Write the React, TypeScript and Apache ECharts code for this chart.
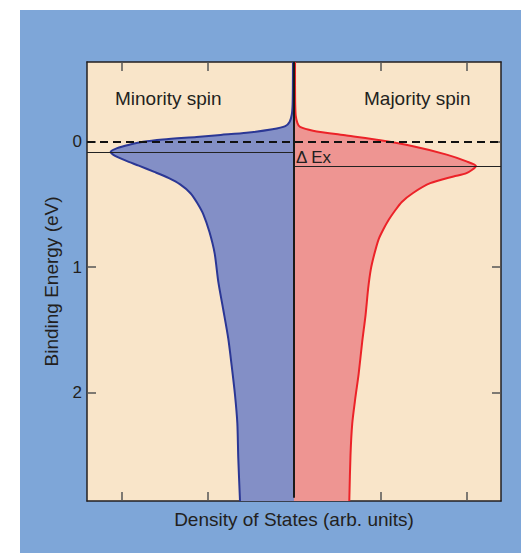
import React, { useEffect, useRef } from "react";
import * as echarts from "echarts";

// Density of states (x, arb. units; minority negative) vs binding energy (y, eV)
const minority: number[][] = [
  [-0.012, -0.637], [-0.013, -0.45], [-0.016, -0.3], [-0.025, -0.22], [-0.05, -0.16],
  [-0.1, -0.125], [-0.25, -0.1], [-0.55, -0.072], [-0.85, -0.055], [-1.13, -0.039],
  [-1.52, -0.018], [-1.75, 0.0], [-1.9, 0.022], [-2.05, 0.05], [-2.125, 0.08],
  [-2.08, 0.11], [-1.95, 0.15], [-1.8, 0.19], [-1.62, 0.24], [-1.45, 0.29],
  [-1.32, 0.34], [-1.2, 0.41], [-1.12, 0.49], [-1.05, 0.58], [-0.98, 0.72],
  [-0.92, 0.89], [-0.877, 1.12], [-0.82, 1.34], [-0.762, 1.57], [-0.722, 1.79],
  [-0.684, 2.02], [-0.657, 2.245], [-0.646, 2.527], [-0.626, 2.866],
];
const majority: number[][] = [
  [0.012, -0.637], [0.012, -0.45], [0.014, -0.3], [0.02, -0.21], [0.04, -0.15],
  [0.07, -0.119], [0.22, -0.089], [0.61, -0.05], [1.0, -0.012], [1.38, 0.036],
  [1.77, 0.102], [2.0, 0.156], [2.11, 0.193], [2.0, 0.25], [1.85, 0.276],
  [1.58, 0.33], [1.38, 0.408], [1.25, 0.48], [1.17, 0.55], [1.1, 0.62],
  [1.035, 0.7], [0.98, 0.78], [0.93, 0.9], [0.89, 1.02], [0.86, 1.17],
  [0.83, 1.38], [0.79, 1.6], [0.75, 1.85], [0.71, 2.05], [0.675, 2.25],
  [0.655, 2.5], [0.641, 2.866],
];
const xTicks = [-2, -1, 1, 2];
const yTicks = [0, 1, 2];
const fermiLevel = 0;
const minorityPeakE = 0.081;
const majorityPeakE = 0.193;
const xMin = -2.4;
const xMax = 2.4;
const yMin = -0.637;
const yMax = 2.866;

const FONT = "'Liberation Sans', Arial, Helvetica, sans-serif";
const TEXT = "#231f20";
const AXIS = "#231f20";

export default function App() {
  const ref = useRef<HTMLDivElement>(null);
  useEffect(() => {
    const chart = echarts.init(ref.current!, null, { renderer: "svg" });

    const dosSeries = (pts: number[][], fillColor: string, lineColor: string) => ({
      type: "custom",
      coordinateSystem: "cartesian2d",
      silent: true,
      clip: true,
      z: 2,
      data: [[0, 0]],
      renderItem: (params: any, api: any) => {
        const line = pts.map((p) => api.coord(p));
        const first = pts[0];
        const last = pts[pts.length - 1];
        // duplicated corner points keep the smoothed outline from bulging
        const poly = [
          api.coord([0, first[1]]),
          api.coord([0, first[1]]),
          line[0],
          ...line,
          line[line.length - 1],
          api.coord([0, last[1]]),
          api.coord([0, last[1]]),
        ];
        return {
          type: "group",
          children: [
            { type: "polygon", shape: { points: poly, smooth: 0.25 }, style: { fill: fillColor } },
            {
              type: "polyline",
              shape: { points: line, smooth: 0.25 },
              style: { fill: "none", stroke: lineColor, lineWidth: 2 },
            },
          ],
        };
      },
    });

    const axisCommon = {
      type: "value",
      axisLine: { show: true, onZero: false, lineStyle: { color: AXIS, width: 1.5 } },
      splitLine: { show: false },
    };
    const tickStyle = { color: "#555", width: 1.5 };
    const solid = { color: "#222", width: 1, type: "solid" };
    const center = { color: "#1a1a1a", width: 2, type: "solid" };

    chart.setOption({
      animation: false,
      backgroundColor: "transparent",
      grid: {
        left: 87,
        top: 62,
        right: 20,
        bottom: 52,
        show: true,
        backgroundColor: "#f9e5c9",
        borderWidth: 0,
      },
      xAxis: [
        {
          ...axisCommon,
          position: "bottom",
          min: xMin,
          max: xMax,
          axisTick: { show: true, inside: true, length: 9, customValues: xTicks, lineStyle: tickStyle },
          axisLabel: { show: false },
          name: "Density of States (arb. units)",
          nameLocation: "middle",
          nameGap: 9,
          nameTextStyle: { fontSize: 19, color: TEXT, fontFamily: FONT },
        },
        {
          ...axisCommon,
          position: "top",
          min: xMin,
          max: xMax,
          axisTick: { show: true, inside: true, length: 9, customValues: xTicks, lineStyle: tickStyle },
          axisLabel: { show: false },
        },
      ],
      yAxis: [
        {
          ...axisCommon,
          position: "left",
          inverse: true,
          min: yMin,
          max: yMax,
          axisTick: { show: true, inside: true, length: 9, customValues: yTicks, lineStyle: tickStyle },
          axisLabel: { show: true, customValues: yTicks, margin: 5, fontSize: 17, color: TEXT, fontFamily: FONT },
          name: "Binding Energy (eV)",
          nameLocation: "middle",
          nameRotate: 90,
          nameGap: 26,
          nameTextStyle: { fontSize: 19, color: TEXT, fontFamily: FONT },
        },
        {
          ...axisCommon,
          position: "right",
          inverse: true,
          min: yMin,
          max: yMax,
          axisTick: { show: true, inside: true, length: 9, customValues: yTicks, lineStyle: tickStyle },
          axisLabel: { show: false },
        },
      ],
      series: [
        dosSeries(minority, "#838fc6", "#2b3795"),
        dosSeries(majority, "#ee9592", "#ec2228"),
        {
          type: "line",
          data: [],
          z: 5,
          silent: true,
          markLine: {
            silent: true,
            symbol: ["none", "none"],
            label: { show: false },
            animation: false,
            data: [
              { yAxis: fermiLevel, lineStyle: { color: "#111", width: 2, type: [8, 5] } },
              [
                { coord: [xMin, minorityPeakE], lineStyle: solid },
                { coord: [0, minorityPeakE], lineStyle: solid },
              ],
              [
                { coord: [0, majorityPeakE], lineStyle: solid },
                { coord: [xMax, majorityPeakE], lineStyle: solid },
              ],
              [
                { coord: [0, yMin], lineStyle: center },
                { coord: [0, 2.84], lineStyle: center },
              ],
            ],
          },
        },
      ],
      graphic: [
        {
          type: "text",
          x: 115,
          y: 98,
          style: { text: "Minority spin", fontSize: 19, fontFamily: FONT, fill: TEXT, verticalAlign: "middle" },
          z: 10,
        },
        {
          type: "text",
          x: 364,
          y: 98,
          style: { text: "Majority spin", fontSize: 19, fontFamily: FONT, fill: TEXT, verticalAlign: "middle" },
          z: 10,
        },
        {
          type: "text",
          x: 296,
          y: 157,
          style: { text: "Δ Ex", fontSize: 17, fontFamily: FONT, fill: TEXT, verticalAlign: "middle" },
          z: 10,
        },
      ],
    });
    return () => chart.dispose();
  }, []);

  return (
    <div style={{ position: "fixed", left: 0, top: 0, width: 521, height: 553, background: "#ffffff" }}>
      <div style={{ position: "absolute", left: 20, top: 10, width: 501, height: 543, background: "#7ea6d8" }} />
      <div ref={ref} style={{ position: "absolute", left: 0, top: 0, width: 521, height: 553 }} />
    </div>
  );
}
